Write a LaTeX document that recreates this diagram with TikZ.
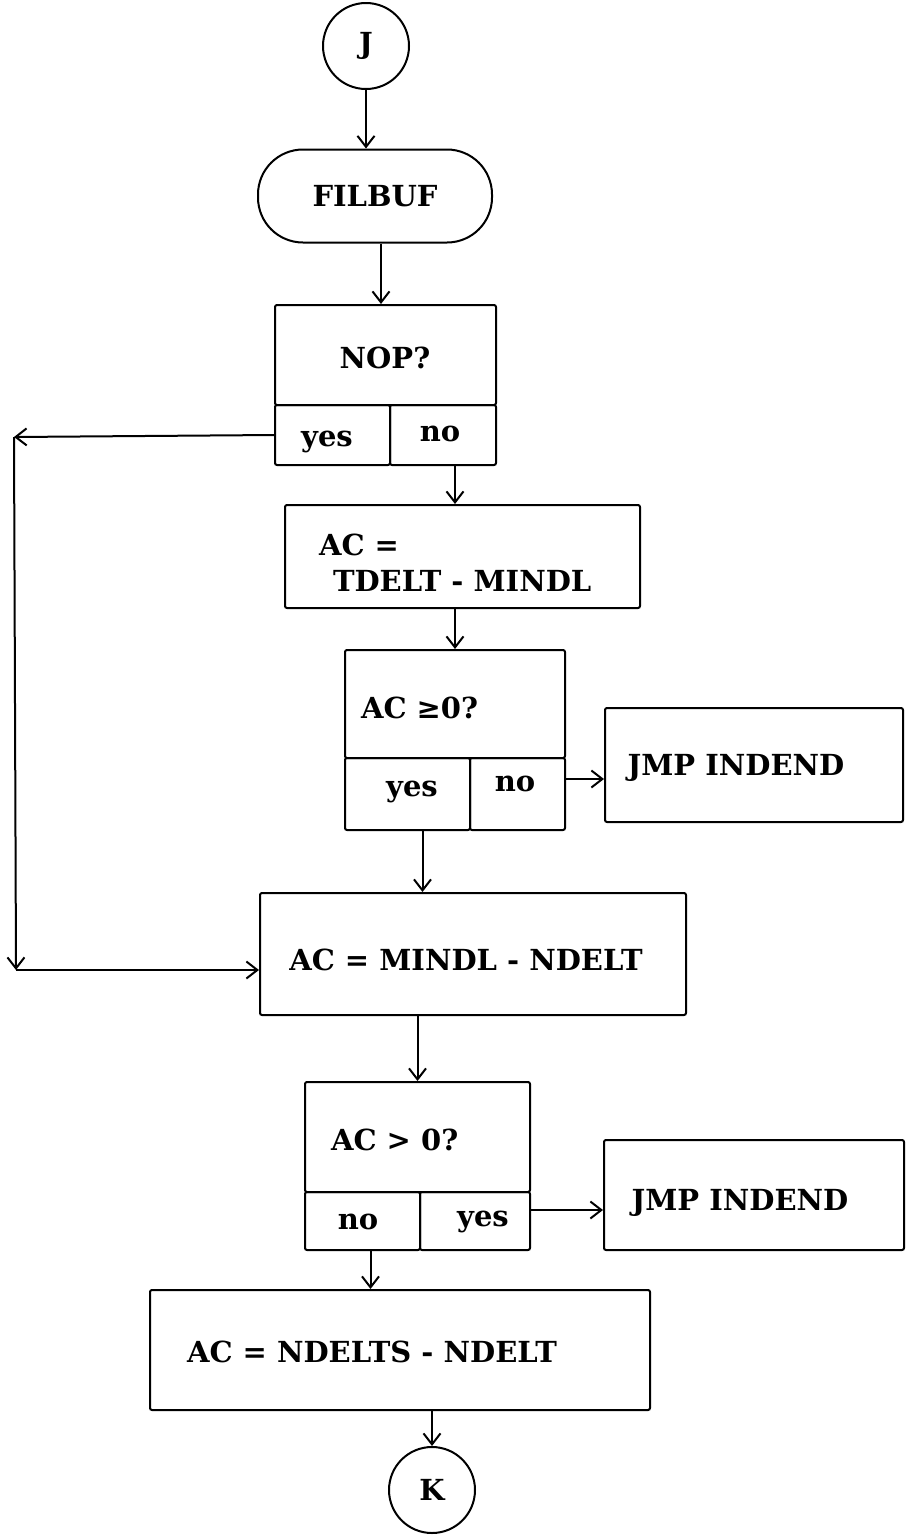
\documentclass[tikz,border=0pt]{standalone}
\usepackage{fontspec}
\setmainfont{DejaVu Serif}
\usetikzlibrary{arrows.meta}
\begin{document}
\begin{tikzpicture}[x=1pt,y=-1pt,
  line width=2pt,
  box/.style={draw, rounded corners=2pt, inner sep=0pt},
  txt/.style={font=\fontsize{29}{36}\selectfont\bfseries, inner sep=0pt},
  arr/.style={-{Straight Barb[length=11pt,width=17pt,line width=2pt]}},
  conn/.style={draw, circle, inner sep=0pt, minimum size=86pt}
]
\useasboundingbox (0,0) rectangle (908,1535);

% J connector
\node[conn, txt] (J) at (366,46) {J};
% FILBUF terminator
\node[box, rounded corners=45pt, minimum width=234pt, minimum height=93pt, txt] (fil) at (375,196) {FILBUF};

% NOP? decision
\node[box, minimum width=221pt, minimum height=100pt] (nop) at (385.5,355) {};
\node[txt] (noptxt) at (385,358) {NOP?};
\node[box, minimum width=115pt, minimum height=60pt] (yes1) at (332.5,435) {};
\node[box, minimum width=106pt, minimum height=60pt] (no1) at (443,435) {};
\node[txt] (yes1t) at (327,442) {yes};
\node[txt] (no1t) at (440,434) {no};

% AC = TDELT - MINDL
\node[box, minimum width=355pt, minimum height=103pt] (tdelt) at (462.5,556.5) {};
\node[txt, align=left, anchor=west] (tdeltt) at (318,563) {AC =\\\hspace{14pt}TDELT - MINDL};

% AC >= 0? decision
\node[box, minimum width=220pt, minimum height=108pt] (ge) at (455,704) {};
\node[txt, anchor=west] (get) at (360,708) {AC ≥0?};
\node[box, minimum width=125pt, minimum height=72pt] (yes2) at (407.5,794) {};
\node[box, minimum width=95pt, minimum height=72pt] (no2) at (517.5,794) {};
\node[txt] (yes2t) at (412,792) {yes};
\node[txt] (no2t) at (515,784) {no};

% JMP INDEND 1
\node[box, minimum width=298pt, minimum height=114pt] (jmp1) at (754,765) {};
\node[txt] (jmp1t) at (736,768) {JMP INDEND};

% AC = MINDL - NDELT
\node[box, minimum width=426pt, minimum height=122pt] (mindl) at (473,954) {};
\node[txt] (mindlt) at (466,960) {AC = MINDL - NDELT};

% AC > 0? decision
\node[box, minimum width=225pt, minimum height=110pt] (gt) at (417.5,1137) {};
\node[txt, anchor=west] (gtt) at (330,1140) {AC > 0?};
\node[box, minimum width=115pt, minimum height=58pt] (no3) at (362.5,1221) {};
\node[box, minimum width=110pt, minimum height=58pt] (yes3) at (475,1221) {};
\node[txt] (no3t) at (358,1222) {no};
\node[txt] (yes3t) at (483,1222) {yes};

% JMP INDEND 2
\node[box, minimum width=300pt, minimum height=110pt] (jmp2) at (754,1195) {};
\node[txt] (jmp2t) at (740,1203) {JMP INDEND};

% AC = NDELTS - NDELT
\node[box, minimum width=500pt, minimum height=120pt] (ndelts) at (400,1350) {};
\node[txt] (ndeltst) at (372,1352) {AC = NDELTS - NDELT};

% K connector
\node[conn, txt] (K) at (432,1490) {K};

% loop corners
\coordinate (c1) at (14,437);
\coordinate (c2) at (16,970);

% connectors
\draw[arr] (J.south) -- (J.south |- fil.north);
\draw[arr] ([xshift=6pt]fil.south) -- ([xshift=6pt]fil.south |- nop.north);
\draw[arr] ([xshift=12pt]no1.south) -- ([xshift=12pt]no1.south |- tdelt.north);
\draw[arr] (yes1.west) -- (c1);
\draw[arr] (c1) -- (c2);
\draw[arr] (c2) -- (c2 -| mindl.west);
\draw[arr] (ge.north |- tdelt.south) -- (ge.north);
\draw[arr] ([yshift=15pt]no2.east) -- ([yshift=15pt]no2.east -| jmp1.west);
\draw[arr] ([xshift=15pt]yes2.south) -- ([xshift=15pt]yes2.south |- mindl.north);
\draw[arr] (gt.north |- mindl.south) -- (gt.north);
\draw[arr] ([yshift=11pt]yes3.east) -- ([yshift=11pt]yes3.east -| jmp2.west);
\draw[arr] ([xshift=8pt]no3.south) -- ([xshift=8pt]no3.south |- ndelts.north);
\draw[arr] (K.north |- ndelts.south) -- (K.north);
\end{tikzpicture}
\end{document}
